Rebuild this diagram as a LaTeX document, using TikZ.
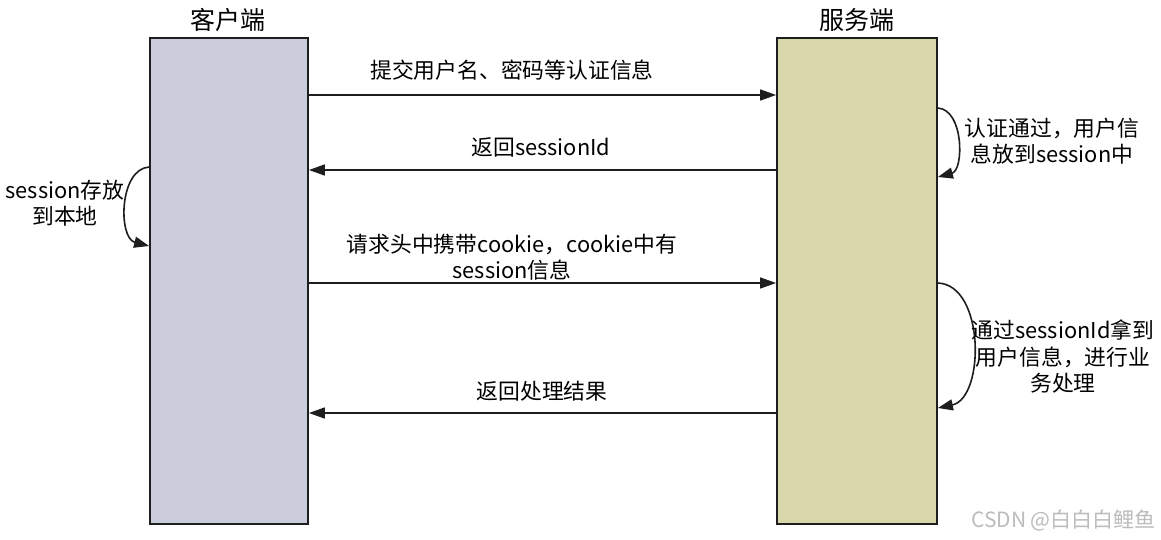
\documentclass[tikz,border=0pt]{standalone}
\usepackage{fontspec}
\setmainfont{Noto Sans CJK SC}
\usetikzlibrary{arrows.meta}
\definecolor{clientfill}{RGB}{204,205,220}
\definecolor{serverfill}{RGB}{215,215,171}
\definecolor{edgecol}{RGB}{30,30,30}
\definecolor{markgray}{RGB}{188,188,188}
\begin{document}
\begin{tikzpicture}[x=1pt,y=-1pt,
  lane/.style={draw=edgecol, line width=1.8pt, inner sep=0pt, minimum width=158pt, minimum height=486pt},
  title/.style={font=\fontsize{25pt}{30pt}\selectfont, text=black},
  lbl/.style={font=\fontsize{21.8pt}{26.5pt}\selectfont, text=black, align=center, inner sep=0pt},
  msg/.style={draw=edgecol, line width=1.5pt, -{Triangle[length=16pt,width=11pt]}},
  loop/.style={draw=edgecol, line width=1.6pt, -{Triangle[length=15pt,width=11pt]}}
]
\useasboundingbox (0,0) rectangle (1161,540);
\fill[white] (0,0) rectangle (1161,540);

% the two lifelines
\node[lane, fill=clientfill] (client) at (229,281) {};
\node[lane, fill=serverfill, minimum width=160pt] (server) at (857,281) {};
\node[title] (clientTitle) at (228,20) {客户端};
\node[title] (serverTitle) at (857,20) {服务端};

% messages between client and server
\draw[msg] (client.east |- 0,95) -- (server.west |- 0,95);
\node[lbl] (m1) at (512,70) {提交用户名、密码等认证信息};

\draw[msg] (server.west |- 0,170) -- (client.east |- 0,170);
\node[lbl] (m2) at (541,147) {返回sessionId};

\draw[msg] (client.east |- 0,283) -- (server.west |- 0,283);
\node[lbl] (m3) at (512,257) {请求头中携带cookie，cookie中有\\session信息};

\draw[msg] (server.west |- 0,413) -- (client.east |- 0,413);
\node[lbl] (m4) at (542,391) {返回处理结果};

% self loops
\coordinate (cA) at (client.west |- 0,167);
\coordinate (cB) at (client.west |- 0,246);
\draw[loop] (cA) .. controls (119,169) and (118,238) .. (cB);
\node[lbl] (s1) at (65,203) {session存放\\到本地};

\coordinate (sA) at (server.east |- 0,108);
\coordinate (sB) at (server.east |- 0,177);
\draw[loop] (sA) .. controls (964,110) and (964,170) .. (sB);
\node[lbl] (s2) at (1052,141) {认证通过，用户信\\息放到session中};

\coordinate (sC) at (server.east |- 0,283);
\coordinate (sD) at (server.east |- 0,408);
\draw[loop] (sC) .. controls (985,285) and (985,398) .. (sD);
\node[lbl] (s3) at (1063,357) {通过sessionId拿到\\用户信息，进行业\\务处理};

% watermark
\node[font=\fontsize{21pt}{24pt}\selectfont, text=markgray, anchor=east, inner sep=0pt] (wm) at (1156,520) {CSDN @白白白鲤鱼};
\end{tikzpicture}
\end{document}
